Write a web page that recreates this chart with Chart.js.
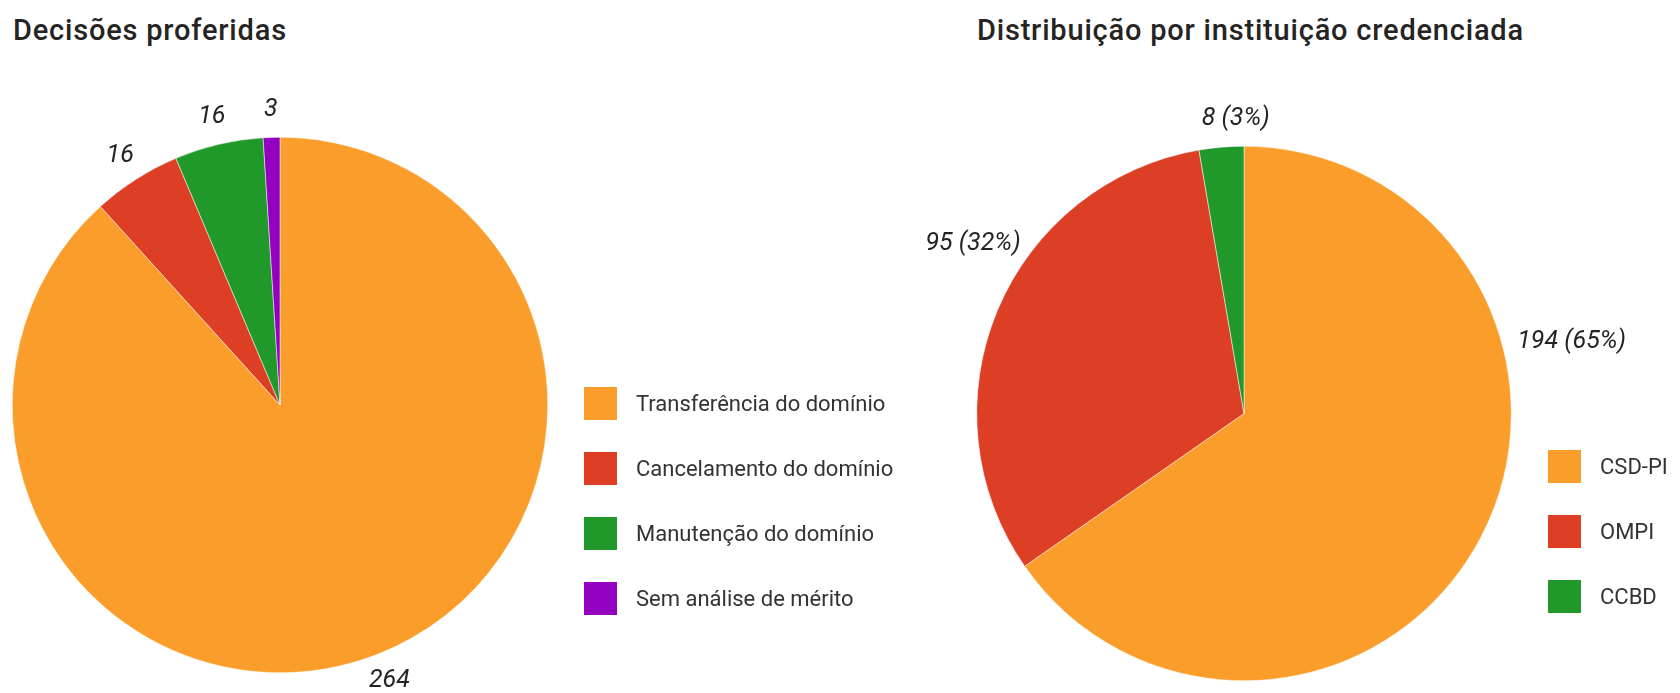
<!DOCTYPE html>
<html>
<head>
<meta charset="utf-8">
<script src="https://cdn.jsdelivr.net/npm/chart.js@4"></script>
<style>
    html, body { margin: 0; padding: 0; background: #fff; }
    body { width: 1680px; height: 693px; position: relative; overflow: hidden; font-family: Roboto, sans-serif; }
    .wrap { position: absolute; top: 0; width: 840px; height: 693px; }
    .title { position: absolute; top: 13px; font-size: 29px; font-weight: 500; letter-spacing: 0.8px; color: #252423; white-space: nowrap; }
    .legend { position: absolute; }
    .legend .item { height: 33px; margin-bottom: 32px; display: flex; align-items: center; font-size: 22px; color: #333; white-space: nowrap; }
    .legend .box { width: 33px; height: 33px; margin-right: 19px; }
</style>
</head>
<body>
<div class="title" style="left:13px">Decisões proferidas</div>
<div class="title" style="left:977px">Distribuição por instituição credenciada</div>
<div class="wrap" style="left:0"><canvas id="decisoes"></canvas></div>
<div class="wrap" style="left:840px"><canvas id="instituicoes"></canvas></div>
<div class="legend" id="legendDecisoes" style="left:584px; top:387px"></div>
<div class="legend" id="legendInst" style="left:1548px; top:450px"></div>
<script>
// Decisões proferidas
const decisoesLabels = ['Transferência do domínio', 'Cancelamento do domínio', 'Manutenção do domínio', 'Sem análise de mérito'];
const decisoesValues = [264, 16, 16, 3];
const decisoesColors = ['#FA9D2A', '#DC3F24', '#21982A', '#9400C0'];

// Distribuição por instituição credenciada
const instLabels = ['CSD-PI', 'OMPI', 'CCBD'];
const instValues = [194, 95, 8];
const instColors = ['#FA9D2A', '#DC3F24', '#21982A'];

// rótulos fora da pizza
const outLabels = {
    id: 'outLabels',
    afterDatasetsDraw(chart, args, opts) {
        const ctx = chart.ctx;
        const meta = chart.getDatasetMeta(0);
        const values = chart.data.datasets[0].data;
        const total = values.reduce((a, b) => a + b, 0);
        ctx.save();
        ctx.font = 'italic 25px Roboto, sans-serif';
        ctx.fillStyle = '#252423';
        ctx.textAlign = 'center';
        ctx.textBaseline = 'middle';
        meta.data.forEach((arc, i) => {
            let text = String(values[i]);
            if (opts.percent) {
                text += ' (' + Math.round(values[i] / total * 100) + '%)';
            }
            let ang = (arc.startAngle + arc.endAngle) / 2;
            if (opts.angles && opts.angles[i] != null) {
                ang = (opts.angles[i] - 90) * Math.PI / 180;
            }
            const r = arc.outerRadius + 16;
            const w = ctx.measureText(text).width;
            const x = arc.x + Math.cos(ang) * r + Math.cos(ang) * w / 2;
            const y = arc.y + Math.sin(ang) * r + Math.sin(ang) * 12;
            ctx.fillText(text, x, y);
        });
        ctx.restore();
    }
};

function buildLegend(el, labels, colors) {
    labels.forEach((l, i) => {
        const item = document.createElement('div');
        item.className = 'item';
        item.innerHTML = '<span class="box" style="background:' + colors[i] + '"></span>' + l;
        el.appendChild(item);
    });
}

function makePie(id, labels, values, colors, padding, labelOpts) {
    const canvas = document.getElementById(id);
    canvas.width = 840;
    canvas.height = 693;
    return new Chart(canvas.getContext('2d'), {
        type: 'pie',
        data: {
            labels: labels,
            datasets: [{
                data: values,
                backgroundColor: colors,
                borderColor: '#fff',
                borderWidth: 0.5
            }]
        },
        options: {
            responsive: false,
            animation: false,
            layout: { padding: padding },
            plugins: {
                legend: { display: false },
                tooltip: { enabled: false },
                outLabels: labelOpts
            }
        },
        plugins: [outLabels]
    });
}

makePie('decisoes', decisoesLabels, decisoesValues, decisoesColors,
    { left: 12, right: 292, top: 137, bottom: 20 }, { percent: false });
makePie('instituicoes', instLabels, instValues, instColors,
    { left: 136, right: 168, top: 146, bottom: 12 }, { percent: true, angles: [76, 305, 358.5] });

buildLegend(document.getElementById('legendDecisoes'), decisoesLabels, decisoesColors);
buildLegend(document.getElementById('legendInst'), instLabels, instColors);
</script>
</body>
</html>
